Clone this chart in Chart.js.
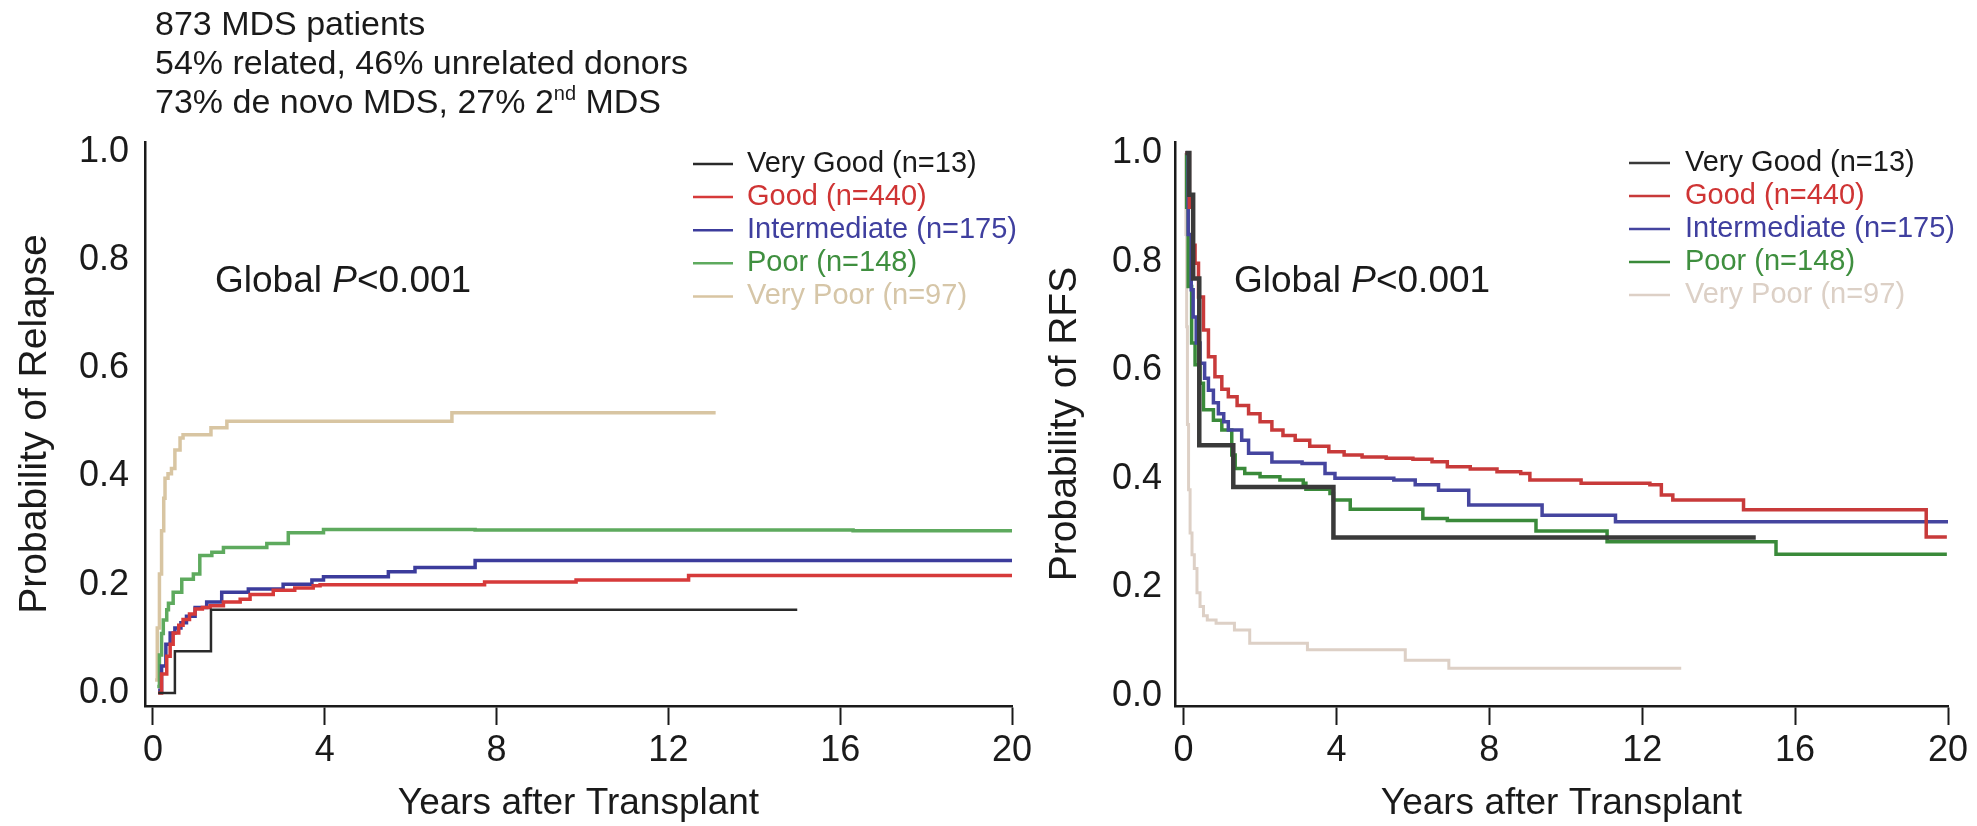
<!DOCTYPE html>
<html><head><meta charset="utf-8">
<script src="https://cdn.jsdelivr.net/npm/chart.js@4.4.1/dist/chart.umd.min.js"></script>
<style>
html,body{margin:0;padding:0;background:#fff;}
body{width:1977px;height:826px;position:relative;overflow:hidden;font-family:'Liberation Sans',Arial,Helvetica,sans-serif;}
#hdr{position:absolute;left:155px;top:4px;font-size:34px;line-height:39px;color:#1a1a1a;z-index:2;white-space:nowrap;}
#hdr .sup{font-size:20px;position:relative;top:-13px;}
canvas{position:absolute;top:0;}
#c1{left:0px;}
#c2{left:1040px;}
</style></head>
<body>
<div id="hdr">873 MDS patients<br>54% related, 46% unrelated donors<br>73% de novo MDS, 27% 2<span class="sup">nd</span> MDS</div>
<canvas id="c1" width="1040" height="826"></canvas>
<canvas id="c2" width="937" height="826"></canvas>
<script>
// ---------- DATA ----------
const categories = ['Very Good (n=13)', 'Good (n=440)', 'Intermediate (n=175)', 'Poor (n=148)', 'Very Poor (n=97)'];
const xTickValues = [0, 4, 8, 12, 16, 20];
const yTickValues = [0, 0.2, 0.4, 0.6, 0.8, 1.0];
const yTickLabels = ['0.0', '0.2', '0.4', '0.6', '0.8', '1.0'];

// Probability of Relapse (left panel): times (years) and step values
const vgRelT = [0.12, 0.51, 1.35, 15.0];
const vgRelV = [0, 0.077, 0.154, 0.154];
const goodRelT = [0.12, 0.2, 0.32, 0.4, 0.47, 0.6, 0.7, 0.85, 0.98, 1.15, 1.33, 1.64, 2.03, 2.26, 2.8, 3.3, 3.73, 3.89, 7.72, 9.85, 12.47, 20];
const goodRelV = [0, 0.035, 0.068, 0.09, 0.111, 0.125, 0.136, 0.146, 0.155, 0.158, 0.161, 0.168, 0.173, 0.182, 0.19, 0.194, 0.198, 0.2, 0.205, 0.209, 0.217, 0.217];
const interRelT = [0.12, 0.2, 0.3, 0.4, 0.51, 0.65, 0.78, 0.98, 1.25, 1.6, 2.22, 3.03, 3.7, 3.97, 5.48, 6.1, 7.5, 20];
const interRelV = [0.005, 0.05, 0.09, 0.111, 0.12, 0.13, 0.142, 0.158, 0.168, 0.186, 0.192, 0.201, 0.209, 0.215, 0.224, 0.232, 0.245, 0.245];
const poorRelT = [0.1, 0.15, 0.2, 0.24, 0.32, 0.36, 0.47, 0.67, 0.94, 1.09, 1.37, 1.64, 2.65, 3.15, 3.97, 7.5, 16.3, 20];
const poorRelV = [0.012, 0.07, 0.11, 0.135, 0.154, 0.166, 0.186, 0.21, 0.22, 0.254, 0.26, 0.269, 0.276, 0.296, 0.302, 0.301, 0.3, 0.3];
const vpRelT = [0.05, 0.1, 0.15, 0.2, 0.25, 0.28, 0.35, 0.43, 0.51, 0.63, 0.7, 1.35, 1.72, 6.96, 13.1];
const vpRelV = [0.024, 0.12, 0.22, 0.30, 0.36, 0.397, 0.405, 0.415, 0.449, 0.471, 0.477, 0.49, 0.502, 0.518, 0.518];

// Probability of RFS (right panel)
const vgRfsT = [0.05, 0.15, 0.25, 0.41, 1.3, 3.92, 14.97];
const vgRfsV = [1.0, 0.923, 0.769, 0.462, 0.385, 0.292, 0.292];
const goodRfsT = [0.05, 0.15, 0.25, 0.3, 0.39, 0.52, 0.65, 0.82, 1.0, 1.17, 1.4, 1.7, 2.0, 2.31, 2.6, 2.92, 3.3, 3.8, 4.2, 4.67, 5.3, 6.0, 6.5, 6.9, 7.5, 8.2, 8.82, 9.06, 10.4, 12.2, 12.5, 12.8, 14.65, 19.28, 19.43, 19.97];
const goodRfsV = [1.0, 0.9, 0.83, 0.797, 0.735, 0.674, 0.625, 0.588, 0.565, 0.551, 0.535, 0.52, 0.505, 0.49, 0.48, 0.471, 0.46, 0.45, 0.444, 0.44, 0.438, 0.436, 0.4315, 0.422, 0.418, 0.413, 0.41, 0.398, 0.392, 0.389, 0.37, 0.361, 0.343, 0.343, 0.293, 0.293];
const interRfsT = [0.05, 0.12, 0.2, 0.25, 0.33, 0.43, 0.55, 0.65, 0.78, 0.91, 1.05, 1.17, 1.52, 1.7, 2.31, 3.1, 3.7, 3.96, 5.5, 6.06, 6.67, 7.46, 9.38, 11.3, 20];
const interRfsV = [1.0, 0.85, 0.748, 0.698, 0.65, 0.613, 0.585, 0.563, 0.54, 0.52, 0.505, 0.49, 0.471, 0.447, 0.431, 0.428, 0.41, 0.401, 0.398, 0.389, 0.379, 0.352, 0.333, 0.321, 0.321];
const poorRfsT = [0.05, 0.08, 0.12, 0.21, 0.3, 0.43, 0.52, 0.78, 1.0, 1.26, 1.35, 1.6, 2.0, 2.52, 3.13, 3.2, 3.83, 3.92, 4.36, 6.26, 6.9, 9.22, 11.08, 15.5, 19.97];
const poorRfsV = [1.0, 0.9, 0.754, 0.65, 0.61, 0.576, 0.527, 0.508, 0.49, 0.444, 0.419, 0.41, 0.404, 0.398, 0.392, 0.381, 0.373, 0.361, 0.344, 0.327, 0.323, 0.304, 0.284, 0.261, 0.261];
const vpRfsT = [0.04, 0.06, 0.08, 0.1, 0.13, 0.17, 0.22, 0.28, 0.35, 0.43, 0.52, 0.62, 0.85, 1.33, 1.73, 3.24, 5.8, 6.94, 13.02];
const vpRfsV = [1.0, 0.85, 0.68, 0.5, 0.38, 0.3, 0.26, 0.235, 0.19, 0.165, 0.148, 0.14, 0.134, 0.1215, 0.097, 0.085, 0.066, 0.051, 0.051];

// ---------- CHART BUILDING ----------
const FONT = "'Liberation Sans', Arial, Helvetica, sans-serif";
function pts(t, v) { return t.map((x, i) => ({ x: x, y: v[i] })); }

const annotPlugin = {
  id: 'annot',
  afterDraw(chart, args, o) {
    const ctx = chart.ctx;
    ctx.save();
    ctx.textBaseline = 'middle';
    ctx.textAlign = 'left';
    ctx.fillStyle = '#1a1a1a';
    let x = o.px;
    ctx.font = '37px ' + FONT;
    ctx.fillText('Global ', x, o.py); x += ctx.measureText('Global ').width;
    ctx.font = 'italic 37px ' + FONT;
    ctx.fillText('P', x, o.py); x += ctx.measureText('P').width;
    ctx.font = '37px ' + FONT;
    ctx.fillText('<0.001', x, o.py);
    chart.data.datasets.forEach((ds, i) => {
      const yy = o.ly + i * o.ls;
      ctx.strokeStyle = ds.borderColor;
      ctx.lineWidth = 2.5;
      ctx.beginPath(); ctx.moveTo(o.lx1, yy); ctx.lineTo(o.lx2, yy); ctx.stroke();
      ctx.fillStyle = ds.legendColor || ds.borderColor;
      ctx.font = '29px ' + FONT;
      ctx.fillText(ds.label, o.tx, yy);
    });
    ctx.restore();
  }
};

function makeChart(id, cfg) {
  const datasets = cfg.series.map((s, i) => ({
    label: categories[i],
    data: pts(s.t, s.v),
    borderColor: s.color,
    legendColor: s.legendColor,
    borderWidth: s.w,
    pointRadius: 0,
    fill: false,
    stepped: 'before',
    tension: 0
  }));
  return new Chart(document.getElementById(id), {
    type: 'line',
    data: { datasets: datasets },
    plugins: [annotPlugin],
    options: {
      responsive: false,
      animation: false,
      devicePixelRatio: 1,
      layout: { padding: { top: 142, right: cfg.padRight, left: 0, bottom: 0 } },
      plugins: {
        legend: { display: false },
        tooltip: { enabled: false },
        annot: cfg.annot
      },
      scales: {
        x: {
          type: 'linear',
          min: cfg.xmin, max: 20,
          afterBuildTicks: (s) => { s.ticks = xTickValues.map(v => ({ value: v })); },
          afterFit: (s) => { s.height = 120; },
          grid: { display: true, drawOnChartArea: false, drawTicks: true, tickLength: 19, tickColor: '#1a1a1a', tickWidth: 2 },
          border: { display: true, color: '#1a1a1a', width: 2.5 },
          ticks: { color: '#1a1a1a', padding: 4, maxRotation: 0, autoSkip: false, font: { family: FONT, size: 36, lineHeight: 1.2 }, callback: (v) => String(v) },
          title: { display: true, text: 'Years after Transplant', color: '#1a1a1a', font: { family: FONT, size: 37, lineHeight: 1.2 }, padding: { top: 0, bottom: 0 } }
        },
        y: {
          type: 'linear',
          min: cfg.ymin, max: cfg.ymax,
          afterBuildTicks: (s) => { s.ticks = yTickValues.map(v => ({ value: v })); },
          afterFit: (s) => { s.width = cfg.yWidth; },
          grid: { display: false, drawTicks: false },
          border: { display: true, color: '#1a1a1a', width: 2.5 },
          ticks: { color: '#1a1a1a', padding: cfg.yPad, font: { family: FONT, size: 36, lineHeight: 1.2 }, callback: (v, i) => yTickLabels[i] },
          title: { display: true, text: cfg.yTitle, color: '#1a1a1a', font: { family: FONT, size: 39, lineHeight: 1.2 }, padding: { top: cfg.yTitlePad, bottom: 0 } }
        }
      }
    }
  });
}

makeChart('c1', {
  xmin: -0.186, ymin: -0.024, ymax: 1.018, yWidth: 145, padRight: 28, yPad: 16, yTitlePad: 12,
  yTitle: 'Probability of Relapse',
  annot: { px: 215, py: 282, lx1: 693, lx2: 733, tx: 747, ly: 164, ls: 33.1 },
  series: [
    { t: vgRelT, v: vgRelV, color: '#2a2a2a', legendColor: '#1a1a1a', w: 2.5 },
    { t: goodRelT, v: goodRelV, color: '#d63a3a', legendColor: '#cf3434', w: 3.5 },
    { t: interRelT, v: interRelV, color: '#3c3c9c', legendColor: '#3f3f9f', w: 3.5 },
    { t: poorRelT, v: poorRelV, color: '#5eaa5e', legendColor: '#3f8f3f', w: 3.5 },
    { t: vpRelT, v: vpRelV, color: '#d8c5a2', legendColor: '#d6c6a8', w: 3.5 }
  ]
});

makeChart('c2', {
  xmin: -0.225, ymin: -0.0184, ymax: 1.0203, yWidth: 135, padRight: 29, yPad: 13, yTitlePad: 2,
  yTitle: 'Probability of RFS',
  annot: { px: 194, py: 282, lx1: 589, lx2: 630, tx: 645, ly: 163, ls: 33 },
  series: [
    { t: vgRfsT, v: vgRfsV, color: '#3a3a3a', legendColor: '#1a1a1a', w: 4.5 },
    { t: goodRfsT, v: goodRfsV, color: '#c83a3a', legendColor: '#cf3434', w: 3.5 },
    { t: interRfsT, v: interRfsV, color: '#45459f', legendColor: '#3f3f9f', w: 3.5 },
    { t: poorRfsT, v: poorRfsV, color: '#3a8a3a', legendColor: '#3f8f3f', w: 3.5 },
    { t: vpRfsT, v: vpRfsV, color: '#ddd0c6', legendColor: '#dcd0c6', w: 3 }
  ]
});
</script>
</body></html>
